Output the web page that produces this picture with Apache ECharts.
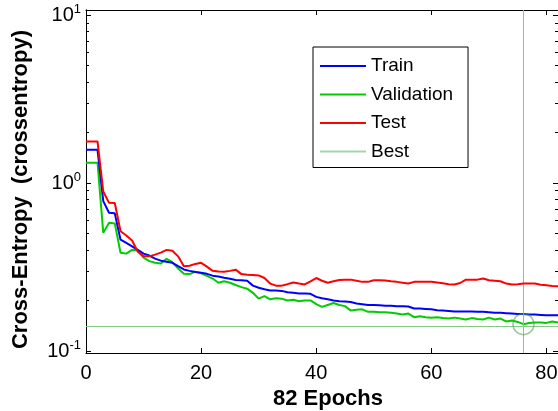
<!DOCTYPE html>
<html><head><meta charset="utf-8">
<script src="https://cdn.jsdelivr.net/npm/echarts@6/dist/echarts.min.js"></script>
<style>html,body{margin:0;padding:0;background:#fff}#c{width:558px;height:411px}</style>
</head><body><div id="c"></div>
<script>
// ---- data ----
const seriesNames = ['Train', 'Validation', 'Test', 'Best'];
const train = [1.58,1.58,1.58,0.78,0.665,0.66,0.46,0.44,0.42,0.40,
  0.38,0.37,0.355,0.345,0.34,0.335,0.32,0.306,0.30,0.295,
  0.292,0.288,0.281,0.278,0.273,0.269,0.265,0.264,0.262,0.245,
  0.238,0.233,0.229,0.229,0.228,0.224,0.222,0.22,0.22,0.219,
  0.21,0.206,0.203,0.20,0.198,0.197,0.196,0.192,0.19,0.188,
  0.188,0.187,0.186,0.186,0.185,0.185,0.184,0.179,0.179,0.178,
  0.177,0.175,0.174,0.173,0.172,0.172,0.172,0.172,0.171,0.171,
  0.17,0.169,0.169,0.168,0.167,0.166,0.166,0.165,0.165,0.164,
  0.163,0.163,0.163];
const validation = [1.32,1.32,1.32,0.505,0.58,0.575,0.384,0.38,0.40,0.398,
  0.36,0.343,0.335,0.332,0.354,0.338,0.31,0.288,0.287,0.297,
  0.29,0.28,0.27,0.255,0.26,0.255,0.247,0.24,0.235,0.222,
  0.205,0.212,0.203,0.206,0.205,0.20,0.202,0.198,0.20,0.20,
  0.19,0.183,0.188,0.193,0.188,0.185,0.174,0.176,0.177,0.171,
  0.171,0.17,0.17,0.169,0.167,0.165,0.167,0.159,0.161,0.159,
  0.158,0.159,0.157,0.156,0.158,0.156,0.154,0.157,0.155,0.154,
  0.158,0.154,0.156,0.15,0.152,0.149,0.1445,0.147,0.148,0.148,
  0.147,0.15,0.148];
const test = [1.77,1.77,1.77,0.89,0.762,0.76,0.516,0.487,0.455,0.39,
  0.366,0.366,0.375,0.385,0.40,0.395,0.366,0.32,0.322,0.33,
  0.335,0.318,0.30,0.297,0.296,0.30,0.305,0.287,0.284,0.283,
  0.282,0.272,0.252,0.245,0.245,0.25,0.256,0.252,0.249,0.26,
  0.272,0.262,0.255,0.26,0.265,0.266,0.266,0.262,0.258,0.258,
  0.264,0.264,0.263,0.26,0.258,0.255,0.252,0.258,0.258,0.258,
  0.258,0.256,0.253,0.25,0.249,0.254,0.266,0.266,0.266,0.27,
  0.264,0.262,0.26,0.252,0.249,0.25,0.252,0.252,0.252,0.248,
  0.246,0.244,0.243];
const bestEpoch = 76;
const bestValue = 0.1445;
const xTicks = [0, 20, 40, 60, 80];
const yMajorTicks = [0.1, 1, 10];
const yMinorTicks = [0.2,0.3,0.4,0.5,0.6,0.7,0.8,0.9,2,3,4,5,6,7,8,9];
const xMax = 82;
const yMin = 0.0973, yMax = 10.72;
const xTitle = '82 Epochs';
const yTitle = 'Cross-Entropy  (crossentropy)';

// ---- chart ----
const FONT = "'Liberation Sans', Arial, Helvetica, sans-serif";
const toPairs = arr => arr.map((v, i) => [i, v]);
const chart = echarts.init(document.getElementById('c'), null, {renderer: 'canvas'});

function yAxisDef(pos, ticks, len, labels, extra) {
  return Object.assign({
    type: 'log', logBase: 10, position: pos, min: yMin, max: yMax,
    axisLine: {show: true, lineStyle: {color: '#000', width: 1}},
    axisTick: {show: true, inside: true, length: len, customValues: ticks, lineStyle: {color: '#000', width: 1}},
    axisLabel: labels ? {
      show: true, customValues: yMajorTicks, margin: 5, color: '#000', fontFamily: FONT,
      formatter: v => '{b|10}{s|' + Math.round(Math.log10(v)) + '}',
      rich: {
        b: {fontSize: 20, fontFamily: FONT, color: '#000', lineHeight: 22},
        s: {fontSize: 13, fontFamily: FONT, color: '#000', padding: [0, 0, 12, 0]}
      }
    } : {show: false},
    splitLine: {show: false}, minorTick: {show: false}, minorSplitLine: {show: false}
  }, extra || {});
}

function xAxisDef(pos, labels, extra) {
  return Object.assign({
    type: 'value', position: pos, min: 0, max: xMax, interval: 20,
    axisLine: {show: true, onZero: false, lineStyle: {color: '#000', width: 1}},
    axisTick: {show: true, inside: true, length: 5, customValues: xTicks, lineStyle: {color: '#000', width: 1}},
    axisLabel: labels ? {show: true, customValues: xTicks, margin: 10, fontSize: 20, color: '#000', fontFamily: FONT} : {show: false},
    splitLine: {show: false}
  }, extra || {});
}

const option = {
  animation: false,
  backgroundColor: '#fff',
  grid: {left: 86, right: 0, top: 10, bottom: 58, containLabel: false, outerBoundsMode: 'none'},
  legend: {
    data: seriesNames, orient: 'vertical', left: 313, top: 47,
    padding: [9, 15, 6, 7], itemGap: 8.5, itemWidth: 46, itemHeight: 2, icon: 'rect',
    borderColor: '#000', borderWidth: 1, backgroundColor: '#fff',
    textStyle: {fontSize: 19, fontFamily: FONT, color: '#000', lineHeight: 20},
    selectedMode: false
  },
  xAxis: [
    xAxisDef('bottom', true, {name: xTitle, nameLocation: 'middle', nameGap: 32,
      nameTextStyle: {fontSize: 22, fontWeight: 'bold', fontFamily: FONT, color: '#000', padding: [0, 0, 0, 12]}}),
    xAxisDef('top', false)
  ],
  yAxis: [
    yAxisDef('left', yMajorTicks, 5, true, {name: yTitle, nameLocation: 'middle', nameGap: 54, nameRotate: 90,
      nameTextStyle: {fontSize: 22, fontWeight: 'bold', fontFamily: FONT, color: '#000', padding: [0, 16, 0, 0]}}),
    yAxisDef('left', yMinorTicks, 3, false),
    yAxisDef('right', yMajorTicks, 5, false),
    yAxisDef('right', yMinorTicks, 3, false)
  ],
  series: [
    {name: 'Train', type: 'line', data: toPairs(train), symbol: 'none', z: 4,
      lineStyle: {color: '#0000ff', width: 2}, itemStyle: {color: '#0000ff'}},
    {name: 'Validation', type: 'line', data: toPairs(validation), symbol: 'none', z: 3,
      lineStyle: {color: '#00cc00', width: 2}, itemStyle: {color: '#00cc00'}},
    {name: 'Test', type: 'line', data: toPairs(test), symbol: 'none', z: 5,
      lineStyle: {color: '#ff0000', width: 2}, itemStyle: {color: '#ff0000'}},
    {name: 'Best', type: 'line', data: [[bestEpoch, bestValue]], symbol: 'none', z: 2,
      lineStyle: {color: '#a6d6a6', width: 1}, itemStyle: {color: '#a6d6a6'},
      markLine: {silent: true, symbol: 'none', label: {show: false}, animation: false,
        emphasis: {disabled: true},
        lineStyle: {color: '#86c886', width: 1, type: 'solid', opacity: 1},
        data: [{xAxis: bestEpoch, lineStyle: {color: '#86c886'}}, {yAxis: bestValue, lineStyle: {color: '#86c886'}}]}},
    {name: 'BestPoint', type: 'scatter', data: [[bestEpoch, bestValue]], symbol: 'circle', symbolSize: 21, z: 6,
      itemStyle: {color: 'rgba(0,0,0,0)', borderColor: 'rgba(70,160,70,0.7)', borderWidth: 1.5}}
  ]
};
chart.setOption(option);
</script></body></html>
